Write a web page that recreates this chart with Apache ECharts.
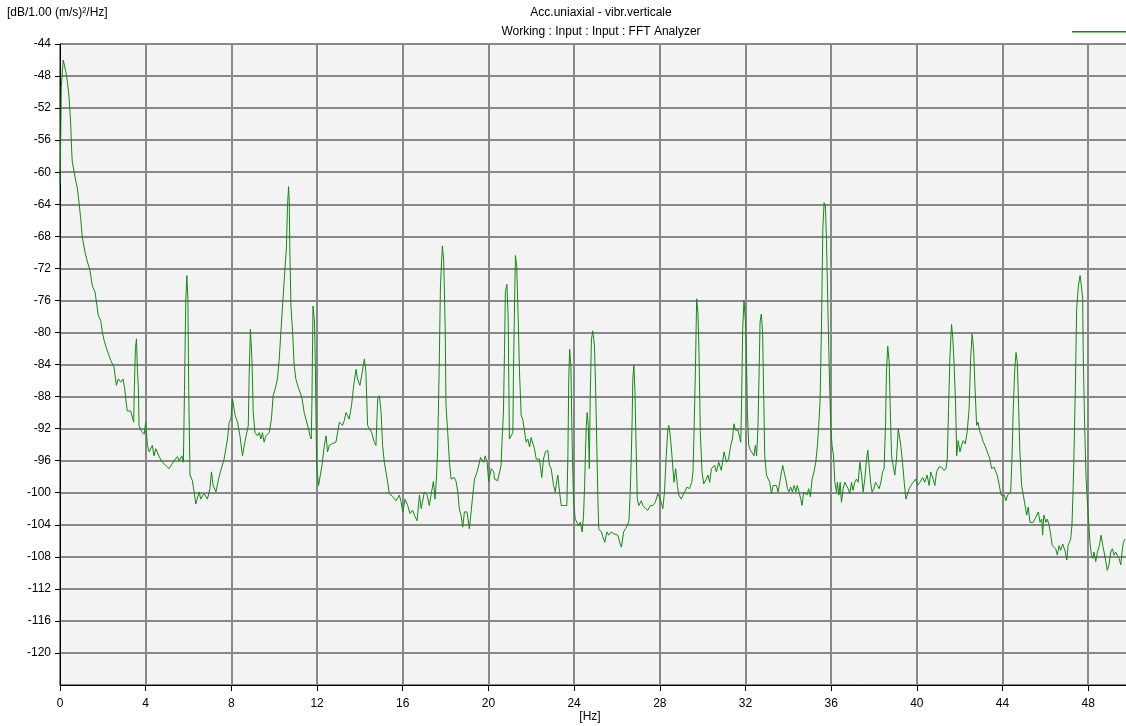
<!DOCTYPE html>
<html>
<head>
<meta charset="utf-8">
<script src="https://cdn.jsdelivr.net/npm/echarts@6/dist/echarts.min.js"></script>
<style>
  html, body { margin: 0; padding: 0; background: #ffffff; }
  #chart { width: 1126px; height: 726px; }
</style>
</head>
<body>
<div id="chart"></div>
<script>
// Labels
const chartTitle = 'Acc.uniaxial - vibr.verticale';
const chartSubtitle = 'Working : Input : Input : FFT Analyzer';
const levelUnit = '[dB/1.00 (m/s)²/Hz]';
const freqUnit = '[Hz]';
const seriesName = 'vibr.verticale';

// Axis ranges
const freqMin = 0, freqMax = 49.95, freqStep = 4;
const levelMin = -124, levelMax = -44, levelStep = 4;

// Spectrum: frequency [Hz] and level [dB]
const freqHz = [
  0, 0.03, 0.06, 0.15, 0.27, 0.34, 0.42, 0.50, 0.54, 0.57,
  0.70, 0.81, 0.89, 0.97, 1.04, 1.17, 1.28, 1.39, 1.51, 1.64,
  1.70, 1.79, 1.90, 1.98, 2.06, 2.21, 2.37, 2.52, 2.63, 2.72,
  2.84, 2.94, 3.02, 3.07, 3.14, 3.30, 3.38, 3.44, 3.47, 3.52,
  3.57, 3.61, 3.66, 3.69, 3.77, 3.85, 3.93, 4.00, 4.08, 4.16,
  4.31, 4.39, 4.47, 4.63, 4.78, 4.94, 5.09, 5.17, 5.33, 5.48,
  5.56, 5.69, 5.76, 5.81, 5.87, 5.92, 5.97, 6.01, 6.07, 6.18,
  6.26, 6.34, 6.50, 6.57, 6.73, 6.88, 7.00, 7.07, 7.15, 7.28,
  7.40, 7.51, 7.66, 7.82, 7.90, 7.98, 8.05, 8.18, 8.29, 8.40,
  8.52, 8.63, 8.72, 8.79, 8.83, 8.89, 8.96, 9.02, 9.10, 9.22,
  9.30, 9.38, 9.45, 9.53, 9.61, 9.77, 9.87, 9.95, 10.05, 10.15,
  10.23, 10.31, 10.47, 10.57, 10.62, 10.67, 10.70, 10.73, 10.78, 10.86,
  10.93, 11.01, 11.14, 11.29, 11.40, 11.48, 11.60, 11.67, 11.73, 11.76,
  11.81, 11.88, 11.92, 11.98, 12.07, 12.15, 12.23, 12.34, 12.42, 12.49,
  12.57, 12.70, 12.88, 12.96, 13.04, 13.19, 13.27, 13.35, 13.50, 13.61,
  13.71, 13.82, 13.89, 14.00, 14.08, 14.21, 14.28, 14.36, 14.44, 14.55,
  14.67, 14.75, 14.83, 14.91, 14.99, 15.06, 15.14, 15.29, 15.37, 15.53,
  15.69, 15.84, 15.92, 16.00, 16.11, 16.23, 16.34, 16.46, 16.54, 16.67,
  16.78, 16.86, 16.93, 17.01, 17.14, 17.24, 17.32, 17.43, 17.51, 17.58,
  17.63, 17.70, 17.76, 17.85, 17.91, 17.98, 18.02, 18.10, 18.18, 18.26,
  18.41, 18.49, 18.57, 18.64, 18.72, 18.80, 18.88, 19.00, 19.11, 19.19,
  19.27, 19.35, 19.47, 19.53, 19.63, 19.69, 19.78, 19.85, 19.94, 20.01,
  20.13, 20.25, 20.28, 20.43, 20.59, 20.64, 20.70, 20.75, 20.79, 20.86,
  20.92, 20.98, 21.06, 21.14, 21.17, 21.23, 21.26, 21.32, 21.39, 21.45,
  21.53, 21.60, 21.68, 21.76, 21.84, 21.92, 21.99, 22.07, 22.15, 22.23,
  22.38, 22.49, 22.57, 22.66, 22.77, 22.85, 22.93, 23.04, 23.12, 23.19,
  23.24, 23.32, 23.40, 23.55, 23.66, 23.71, 23.75, 23.79, 23.85, 23.91,
  23.97, 24.05, 24.13, 24.22, 24.29, 24.38, 24.44, 24.49, 24.53, 24.57,
  24.61, 24.66, 24.71, 24.75, 24.81, 24.87, 24.95, 25.00, 25.06, 25.11,
  25.15, 25.27, 25.34, 25.43, 25.53, 25.62, 25.73, 25.84, 25.93, 26.04,
  26.15, 26.21, 26.31, 26.40, 26.48, 26.56, 26.62, 26.67, 26.71, 26.74,
  26.79, 26.84, 26.90, 26.95, 27.02, 27.14, 27.21, 27.34, 27.44, 27.56,
  27.68, 27.79, 27.91, 27.99, 28.07, 28.14, 28.22, 28.30, 28.38, 28.42,
  28.49, 28.58, 28.66, 28.74, 28.82, 28.89, 29.00, 29.08, 29.16, 29.27,
  29.39, 29.49, 29.55, 29.59, 29.66, 29.72, 29.78, 29.83, 29.89, 29.97,
  30.05, 30.17, 30.25, 30.33, 30.41, 30.56, 30.64, 30.75, 30.87, 31.00,
  31.11, 31.21, 31.31, 31.39, 31.46, 31.54, 31.65, 31.73, 31.78, 31.82,
  31.87, 31.93, 32.00, 32.04, 32.09, 32.15, 32.23, 32.30, 32.40, 32.46,
  32.52, 32.58, 32.63, 32.68, 32.74, 32.80, 32.85, 32.90, 32.98, 33.05,
  33.13, 33.21, 33.29, 33.36, 33.44, 33.52, 33.60, 33.68, 33.74, 33.80,
  33.88, 33.96, 34.03, 34.11, 34.19, 34.27, 34.35, 34.42, 34.50, 34.58,
  34.64, 34.72, 34.80, 34.87, 34.95, 35.03, 35.11, 35.20, 35.28, 35.36,
  35.42, 35.48, 35.55, 35.61, 35.67, 35.73, 35.78, 35.86, 35.92, 35.98,
  36.04, 36.11, 36.17, 36.25, 36.29, 36.36, 36.42, 36.48, 36.56, 36.64,
  36.72, 36.79, 36.87, 36.95, 37.02, 37.10, 37.18, 37.26, 37.34, 37.42,
  37.49, 37.57, 37.65, 37.71, 37.77, 37.84, 37.91, 37.99, 38.07, 38.16,
  38.24, 38.32, 38.40, 38.47, 38.54, 38.58, 38.64, 38.71, 38.75, 38.82,
  38.89, 38.97, 39.05, 39.13, 39.19, 39.25, 39.33, 39.41, 39.49, 39.57,
  39.64, 39.72, 39.83, 39.94, 40.03, 40.14, 40.27, 40.37, 40.48, 40.57,
  40.65, 40.76, 40.84, 40.92, 41.03, 41.15, 41.26, 41.36, 41.42, 41.48,
  41.54, 41.62, 41.68, 41.74, 41.81, 41.86, 41.93, 42.01, 42.09, 42.16,
  42.26, 42.35, 42.44, 42.51, 42.58, 42.65, 42.71, 42.79, 42.86, 42.94,
  43.02, 43.10, 43.18, 43.26, 43.33, 43.41, 43.49, 43.60, 43.69, 43.75,
  43.85, 43.93, 44.00, 44.08, 44.16, 44.24, 44.31, 44.38, 44.44, 44.50,
  44.57, 44.63, 44.69, 44.75, 44.81, 44.89, 44.97, 45.05, 45.13, 45.20,
  45.28, 45.36, 45.43, 45.51, 45.59, 45.67, 45.75, 45.83, 45.87, 45.93,
  46.03, 46.09, 46.18, 46.25, 46.32, 46.40, 46.48, 46.56, 46.64, 46.71,
  46.81, 46.87, 46.93, 47.00, 47.06, 47.12, 47.18, 47.24, 47.30, 47.35,
  47.40, 47.46, 47.54, 47.62, 47.68, 47.74, 47.77, 47.84, 47.90, 47.98,
  48.03, 48.08, 48.15, 48.21, 48.27, 48.35, 48.43, 48.52, 48.60, 48.68,
  48.74, 48.82, 48.89, 48.97, 49.05, 49.13, 49.21, 49.28, 49.36, 49.44,
  49.52, 49.58, 49.64, 49.72
];
const levelDb = [
  -61.5, -56.3, -49.4, -46, -47.4, -48.6, -50.5, -54, -57, -58.6,
  -60.6, -62, -63.8, -65.9, -68.1, -70, -71.2, -72.1, -74.2, -75,
  -76.2, -77.9, -78.5, -80, -81, -82.3, -83.5, -84.3, -86.6, -85.8,
  -86.2, -85.8, -87, -88.3, -89.8, -89.8, -90, -91.2, -87, -82,
  -80.8, -84.5, -87, -91.6, -92.2, -92, -92.7, -91.2, -94.1, -94.9,
  -94.1, -95.4, -94.5, -95.5, -96.2, -96.6, -97, -97.2, -96, -95.5,
  -96, -95.4, -96.2, -87.4, -76.2, -72.9, -75.8, -87.4, -97.8, -98.5,
  -99.9, -101.4, -99.9, -100.8, -100.1, -100.8, -99.5, -97.4, -99.1, -99.9,
  -98.3, -97.2, -95.8, -93.3, -91.2, -90.8, -88.3, -90.4, -91.2, -92.9,
  -95.4, -93.7, -92.5, -91.6, -85.4, -79.6, -83.3, -90, -92.5, -92.9,
  -92.5, -93.3, -92.5, -93.7, -92.9, -92.5, -90.8, -87.9, -87, -85.8,
  -83.5, -80, -73.3, -69.4, -64.2, -61.8, -63.5, -69.6, -76.7, -80,
  -84.1, -85.8, -87, -88.1, -90, -90.8, -92, -92.9, -93.3, -88.7,
  -76.7, -78.7, -84.1, -96.6, -99.1, -99.3, -96.6, -94.1, -92.9, -94.9,
  -94.1, -93.9, -93.7, -92.5, -91.2, -91.6, -91, -90, -90.8, -89.1,
  -86.6, -84.6, -85.8, -86.6, -85.4, -83.3, -84.9, -91.6, -92, -92.5,
  -93.7, -94.1, -88.3, -87.9, -90, -94.1, -96.2, -98.6, -100.1, -100.5,
  -101, -100.3, -101.1, -102.4, -100.8, -101.6, -102.6, -102.2, -102.8, -103.5,
  -100.3, -102, -102, -99.9, -100.3, -101.6, -100.3, -98.6, -100.8, -97.8,
  -94.5, -84.6, -74.2, -69.2, -70.9, -79.2, -89.1, -92.5, -96.2, -98.3,
  -98.1, -98.6, -99.9, -102, -102.8, -104.3, -102.4, -102.4, -104.5, -102.4,
  -100.3, -98.3, -97.4, -96.8, -95.6, -95.4, -96.2, -95.4, -96.2, -98.6,
  -97, -97.4, -98.3, -98.5, -96.6, -93.3, -90, -82.5, -75, -74,
  -77.9, -93.3, -93.5, -92.5, -84.8, -75, -70.4, -71.7, -78.3, -84.9,
  -90.4, -90.8, -91, -93.7, -93.3, -94.3, -93.1, -93.3, -94.5, -95.8,
  -95.8, -98.1, -95.8, -94.9, -94.7, -96.6, -97, -99.1, -99.9, -98.5,
  -97.8, -99.9, -101.6, -101.6, -101.6, -95.4, -85.8, -82.1, -84.1, -94.1,
  -100.8, -103.3, -103.3, -104.1, -103.7, -104.9, -102.8, -99.1, -94.9, -91.6,
  -90, -91.6, -97, -88.3, -80.8, -79.8, -81.7, -86.6, -94.1, -100.8,
  -104.5, -104.9, -105.5, -106.2, -104.9, -105.3, -104.9, -105.1, -104.9, -105.3,
  -106.4, -106.8, -104.9, -104.5, -104.1, -103.5, -99.9, -95.4, -90.8, -85.8,
  -84.1, -87.4, -94.9, -100.8, -101.6, -101, -101.6, -102, -102.2, -101.6,
  -101.6, -101.2, -100.1, -100.3, -101.2, -102, -99.9, -95.4, -92, -91.6,
  -92.9, -95.8, -98.7, -97, -99.1, -100.3, -100.8, -100.3, -99.9, -99.3,
  -99.5, -98.7, -97.4, -93.3, -85, -75.8, -77.5, -82.5, -92.4, -97.4,
  -98.9, -98.3, -97.8, -98.7, -97, -96.6, -97.4, -96.2, -97.2, -94.9,
  -96.2, -95.8, -94.1, -93.3, -91.4, -92.2, -92.2, -92.4, -93.7, -88.3,
  -79.6, -76, -78.7, -82.1, -90, -94.1, -94.7, -94.9, -95.4, -94.1,
  -95.4, -92, -85.8, -78.7, -77.7, -80, -87.9, -95.4, -97.8, -97.8,
  -98.7, -100.1, -99.1, -99.3, -99.1, -99.9, -98.7, -97.4, -96.6, -97.4,
  -98.3, -99.5, -99.9, -99.3, -99.9, -99.1, -99.9, -99.1, -99.9, -100.8,
  -101.6, -99.9, -99.7, -100.3, -99.5, -100.5, -98.3, -97.4, -96.2, -94.1,
  -91.6, -88.7, -78.7, -67.1, -63.8, -64.2, -68.4, -78.7, -85.8, -91.6,
  -94.1, -95.4, -98.7, -99.9, -98.7, -100.3, -98.7, -101.2, -99.5, -98.7,
  -98.7, -99.5, -100.1, -98.7, -99.7, -98.7, -98.3, -98.7, -96.2, -97.8,
  -99.9, -98.3, -95.8, -94.7, -96.6, -98.7, -99.9, -99.5, -98.7, -99.1,
  -99.5, -98.7, -97.4, -97, -91.2, -85, -81.7, -83.7, -88.7, -95.4,
  -96.6, -97.8, -95.8, -92, -92, -94.1, -96.2, -98.7, -100.8, -100.8,
  -99.5, -99.1, -98.7, -98.3, -99.1, -98.7, -98.1, -98.7, -97.8, -99.1,
  -97.4, -98.3, -99.1, -97.4, -96.8, -96.8, -97.2, -97, -95.8, -89.5,
  -83.3, -79, -80.8, -84.1, -89.1, -95.4, -93.5, -94.9, -94.1, -93.5,
  -93.9, -92.4, -89.5, -83.3, -80.2, -82.1, -86.6, -91.6, -91.2, -92.4,
  -92.9, -93.7, -94.1, -94.7, -94.9, -95.8, -97, -96.8, -96.6, -97.8,
  -99.1, -100.3, -100.5, -100.3, -101, -100.3, -100.5, -99.9, -95.8, -89.5,
  -84.6, -82.5, -83.7, -89.1, -94.9, -99.1, -100.3, -101.6, -102.8, -101.8,
  -103.7, -103.5, -103.7, -103.3, -103.1, -102.4, -103.7, -103.3, -105.3, -102.8,
  -103.7, -103.3, -104.1, -105.3, -106.6, -106.6, -107, -107.8, -106.6, -107.2,
  -106.4, -106.6, -107.4, -108.4, -106.6, -106.2, -105.8, -104.1, -99.1, -93.3,
  -86.6, -77.1, -74.2, -72.9, -74.2, -75.8, -83.3, -92.4, -98.3, -102,
  -104.1, -106.2, -107.8, -108.2, -107.4, -108.6, -107.4, -106.6, -105.3, -106.6,
  -107.4, -108.6, -109.7, -109, -107.4, -107, -107.8, -107.4, -107.8, -108.2,
  -109, -107.4, -106.2, -105.8
];

const spectrum = freqHz.slice(0, Math.min(freqHz.length, levelDb.length))
  .map((f, i) => [f, levelDb[i]]);

const FONT = "'Liberation Sans', Arial, sans-serif";
const gridLine = { color: '#888888', width: 2 };

const chart = echarts.init(document.getElementById('chart'), null, { renderer: 'canvas' });
chart.setOption({
  animation: false,
  backgroundColor: '#ffffff',
  textStyle: { fontFamily: FONT, color: '#000' },
  title: {
    text: chartTitle,
    subtext: chartSubtitle,
    left: 596,
    textAlign: 'center',
    top: 2,
    itemGap: 7,
    textStyle: { fontFamily: FONT, fontSize: 12, fontWeight: 'normal', color: '#000' },
    subtextStyle: { fontFamily: FONT, fontSize: 12, color: '#000' }
  },
  legend: {
    data: [seriesName],
    right: -5,
    top: 26,
    icon: 'rect',
    itemWidth: 54,
    itemHeight: 1.5,
    formatter: () => '',
    selectedMode: false
  },
  graphic: [
    {
      // unit of the level axis, top-left corner
      type: 'text',
      left: 7,
      top: 7,
      style: { text: levelUnit, font: '12px ' + FONT, fill: '#000' }
    },
    {
      // unit of the frequency axis, under the tick labels
      type: 'text',
      x: 590,
      y: 717,
      style: {
        text: freqUnit, font: '12px ' + FONT, fill: '#000',
        align: 'center', verticalAlign: 'middle'
      }
    }
  ],
  // plot area runs past the right edge of the page, like a clipped view
  grid: {
    left: 60, top: 44, width: 1070, height: 641,
    outerBoundsMode: 'none',
    containLabel: false,
    show: true, backgroundColor: '#f3f3f3', borderWidth: 0
  },
  xAxis: {
    type: 'value',
    min: freqMin, max: freqMax, interval: freqStep,
    axisLine: { show: true, onZero: false, lineStyle: { color: '#000', width: 1 } },
    axisTick: { show: true, length: 6, lineStyle: { color: '#000' } },
    axisLabel: { color: '#000', fontSize: 12, fontFamily: FONT, margin: 13, showMaxLabel: false },
    splitLine: { show: true, lineStyle: gridLine }
  },
  yAxis: {
    type: 'value',
    min: levelMin, max: levelMax, interval: levelStep,
    axisLine: { show: true, onZero: false, lineStyle: { color: '#000', width: 1 } },
    axisTick: { show: true, length: 5, lineStyle: { color: '#000' } },
    axisLabel: { color: '#000', fontSize: 12, fontFamily: FONT, margin: 9, showMinLabel: false },
    splitLine: { show: true, lineStyle: gridLine }
  },
  series: [{
    name: seriesName,
    type: 'line',
    data: spectrum,
    showSymbol: false,
    symbol: 'none',
    lineStyle: { color: '#138a13', width: 1 },
    itemStyle: { color: '#138a13' },
    emphasis: { disabled: true }
  }]
});
</script>
</body>
</html>
